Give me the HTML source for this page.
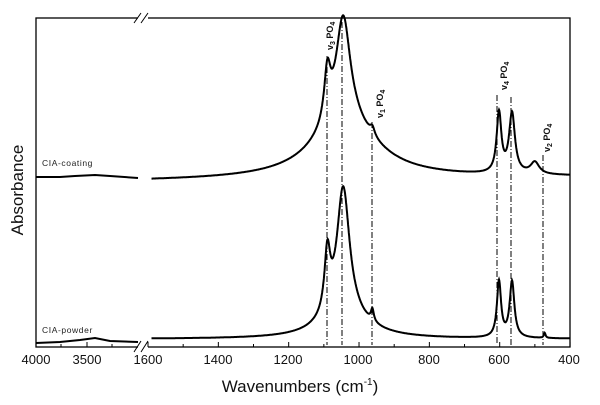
<!DOCTYPE html>
<html><head><meta charset="utf-8"><style>
html,body{margin:0;padding:0;background:#fff;}
svg{display:block;font-family:"Liberation Sans",sans-serif;}
</style></head><body>
<svg id="s" width="600" height="405" viewBox="0 0 600 405" xmlns="http://www.w3.org/2000/svg">
<rect x="36" y="18" width="534" height="329" fill="none" stroke="#000" stroke-width="1.3"/>
<g stroke="#000" stroke-width="1" fill="none">
<rect x="138" y="10" width="10" height="16" fill="#fff" stroke="none"/>
<line x1="134" y1="23" x2="141" y2="13"/><line x1="141" y1="23" x2="148" y2="13"/>
<rect x="138" y="339" width="10" height="14" fill="#fff" stroke="none"/>
<line x1="134" y1="352" x2="141" y2="341"/><line x1="141" y1="352" x2="148" y2="341"/>
</g>
<g id="ticks" stroke="#000" stroke-width="1"></g>
<g font-size="13" text-anchor="middle" fill="#111">
<text x="36" y="364">4000</text><text x="87" y="364">3500</text><text x="148" y="364">1600</text>
<text x="218" y="364">1400</text><text x="288" y="364">1200</text><text x="358" y="364">1000</text>
<text x="429" y="364">800</text><text x="499" y="364">600</text><text x="569" y="364">400</text>
</g>
<text x="300" y="392" font-size="17" text-anchor="middle" fill="#111">Wavenumbers (cm<tspan font-size="10" dy="-7">-1</tspan><tspan dy="7">)</tspan></text>
<text transform="translate(23,190) rotate(-90)" font-size="17" text-anchor="middle" fill="#111">Absorbance</text>
<g font-size="8.5" fill="#222" letter-spacing="0.6">
<text x="42" y="166">CIA-coating</text><text x="42" y="333">CIA-powder</text>
</g>
<g font-size="9" font-weight="bold" fill="#111">
<text transform="translate(333,50) rotate(-90)">v<tspan font-size="7" dy="2">3</tspan><tspan dy="-2"> PO</tspan><tspan font-size="7" dy="2">4</tspan></text>
<text transform="translate(383,118) rotate(-90)">v<tspan font-size="7" dy="2">1</tspan><tspan dy="-2"> PO</tspan><tspan font-size="7" dy="2">4</tspan></text>
<text transform="translate(507,90) rotate(-90)">v<tspan font-size="7" dy="2">4</tspan><tspan dy="-2"> PO</tspan><tspan font-size="7" dy="2">4</tspan></text>
<text transform="translate(550,152) rotate(-90)">v<tspan font-size="7" dy="2">2</tspan><tspan dy="-2"> PO</tspan><tspan font-size="7" dy="2">4</tspan></text>
</g>
<g stroke="#000" stroke-width="1" stroke-dasharray="6,2,1,2" fill="none">
<line x1="327" y1="56" x2="327" y2="345"/><line x1="342" y1="22" x2="342" y2="345"/>
<line x1="372" y1="122" x2="372" y2="345"/><line x1="497" y1="95" x2="497" y2="345"/>
<line x1="511" y1="97" x2="511" y2="345"/><line x1="543" y1="155" x2="543" y2="345"/>
</g>
<g id="curves" fill="none" stroke="#000" stroke-width="2"></g>
</svg>
<script>
var ns="http://www.w3.org/2000/svg";
function X(w){return 148+(1600-w)*0.3517;}
function L(w,c,h,g){var d=(w-c)/g;return h/(1+d*d);}
function coat(w){var b=181-(1600-w)/1200*4;
 return b-(L(w,1045,106,25)+L(w,1040,55,110)+L(w,1090,50,11)+L(w,962,8,8)+L(w,602,60,8)+L(w,565,60,10)+L(w,500,12,15));}
function pow(w){var b=339;
 return b-(L(w,1045,130,22)+L(w,1040,20,80)+L(w,1090,60,10)+L(w,962,12,5)+L(w,602,56,7)+L(w,565,56,8)+L(w,472,5,3));}
function path(f){var d="";for(var w=1590;w>=400;w-=1){d+=(d?"L":"M")+X(w).toFixed(1)+" "+f(w).toFixed(1);}return d;}
var g=document.getElementById("curves");
function add(d){var p=document.createElementNS(ns,"path");p.setAttribute("d",d);g.appendChild(p);}
add(path(coat));add(path(pow));
add("M36 177 L60 177 L75 176 L95 175 L110 176 L138 178");
add("M36 343 L60 342 L80 340 L95 338 L110 341 L138 342");
var t=document.getElementById("ticks");
function tk(x,l){var e=document.createElementNS(ns,"line");e.setAttribute("x1",x);e.setAttribute("x2",x);e.setAttribute("y1",347);e.setAttribute("y2",347-l);t.appendChild(e);}
[36,87].forEach(function(x){tk(x,5)});[61,112].forEach(function(x){tk(x,3)});
for(var w=1600;w>=400;w-=100){tk(X(w),w%200==0?5:3);}
</script>
</body></html>
